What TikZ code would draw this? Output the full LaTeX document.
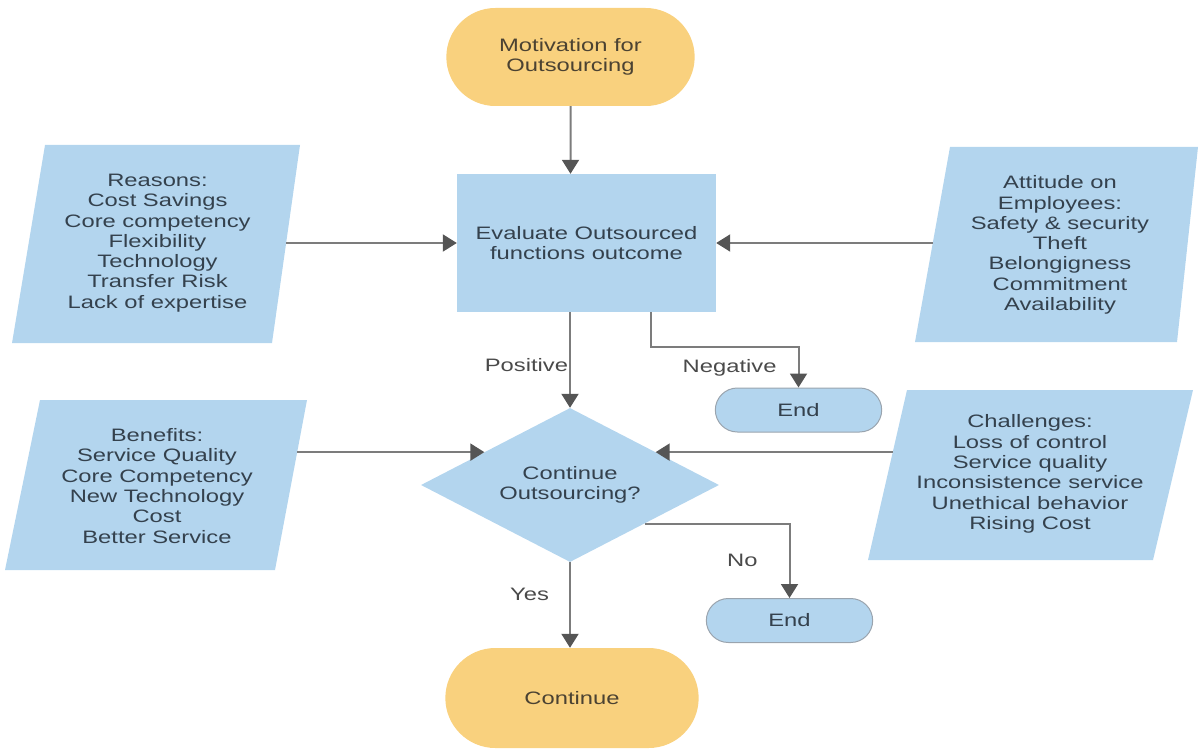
\documentclass[tikz,border=0pt]{standalone}
\usepackage{fontspec}
\setmainfont[FakeStretch=1.32]{Liberation Sans}
\usetikzlibrary{arrows.meta}
\usetikzlibrary{shapes.misc}
\usetikzlibrary{shapes.geometric}

\definecolor{boxblue}{HTML}{B3D5EE}
\definecolor{termorange}{HTML}{F9D17E}
\definecolor{linegrey}{HTML}{7C7C7C}
\definecolor{tipgrey}{HTML}{555555}
\definecolor{textblue}{HTML}{34414D}
\definecolor{textbrown}{HTML}{4B4232}
\definecolor{labelgrey}{HTML}{4A4A4A}
\definecolor{endborder}{HTML}{9AA4AE}

\tikzset{
  every node/.style={font=\fontsize{18}{20.3}\selectfont, align=center},
  terminal/.style={rounded rectangle, fill=termorange, text=textbrown,
    minimum width=255pt, minimum height=98pt},
  endnode/.style={rounded rectangle, fill=boxblue, draw=endborder, line width=1pt,
    text=textblue, minimum width=173pt, minimum height=44pt},
  process/.style={rectangle, fill=boxblue, text=textblue,
    minimum width=259pt, minimum height=138pt},
  choice/.style={diamond, fill=boxblue, text=textblue, aspect=1.94, inner sep=0pt,
    minimum width=298pt, minimum height=154pt},
  info/.style={text=textblue, inner sep=0pt},
  infofill/.style={fill=boxblue},
  lbl/.style={text=labelgrey, inner sep=0pt},
  flow/.style={draw=linegrey, line width=2pt,
    -{Triangle[width=17pt,length=14pt,color=tipgrey]}}
}

\begin{document}
\begin{tikzpicture}[x=1pt, y=-1pt]
\useasboundingbox (0,0) rectangle (1199,749);

% input boxes
\fill[infofill] (45,145) -- (300,145) -- (272,343) -- (12,343) -- cycle;
\fill[infofill] (950,147) -- (1198,147) -- (1177,342) -- (915,342) -- cycle;
\fill[infofill] (40,400) -- (307,400) -- (275,570) -- (5,570) -- cycle;
\fill[infofill] (907,390) -- (1193,390) -- (1153,560) -- (868,560) -- cycle;

\node[info, minimum width=257pt] (reasons) at (157.5,243)
  {Reasons:\\Cost Savings\\Core competency\\Flexibility\\Technology\\Transfer Risk\\Lack of expertise};
\node[info, minimum width=254pt] (attitude) at (1060,245)
  {Attitude on\\Employees:\\Safety \& security\\Theft\\Belongigness\\Commitment\\Availability};
\node[info, minimum width=280pt] (benefits) at (157,486)
  {Benefits:\\Service Quality\\Core Competency\\New Technology\\Cost\\Better Service};
\node[info, minimum width=274pt] (challenges) at (1030,474)
  {Challenges:\\Loss of control\\Service quality\\Inconsistence service\\Unethical behavior\\Rising Cost};

% main flow
\node[terminal] (motivation) at (570.5,57) {Motivation for\\Outsourcing};
\node[process] (evaluate) at (586.5,243) {Evaluate Outsourced\\functions outcome};
\node[choice] (decide) at (570,485) {Continue\\Outsourcing?};
\node[endnode] (end1) at (798.5,410) {End};
\node[endnode] (end2) at (789.5,620.5) {End};
\node[terminal, minimum width=260pt, minimum height=100pt] (carryon) at (572,698) {Continue};

% connectors
\draw[flow] (motivation) -- (motivation |- evaluate.north);
\draw[flow] (reasons.east) -- (evaluate.west);
\draw[flow] (attitude.west |- evaluate.east) -- (evaluate.east);
\draw[flow] (decide.north |- evaluate.south) -- node[pos=0.55, left=1pt, lbl] {Positive} (decide.north);
\draw[flow] ([xshift=64.5pt]evaluate.south) -- ++(0,35)
  -| node[pos=0.75, left=21pt, lbl] {Negative} (end1.north);
\draw[flow] (decide.159 -| benefits.east) -- (decide.159);
\draw[flow] (decide.21 -| challenges.west) -- (decide.21);
\draw[flow] (decide.south east) -| node[pos=0.75, left=31pt, lbl] {No} (end2.north);
\draw[flow] (decide.south) -- node[pos=0.38, left=20pt, lbl] {Yes} (decide.south |- carryon.north);

\end{tikzpicture}
\end{document}
